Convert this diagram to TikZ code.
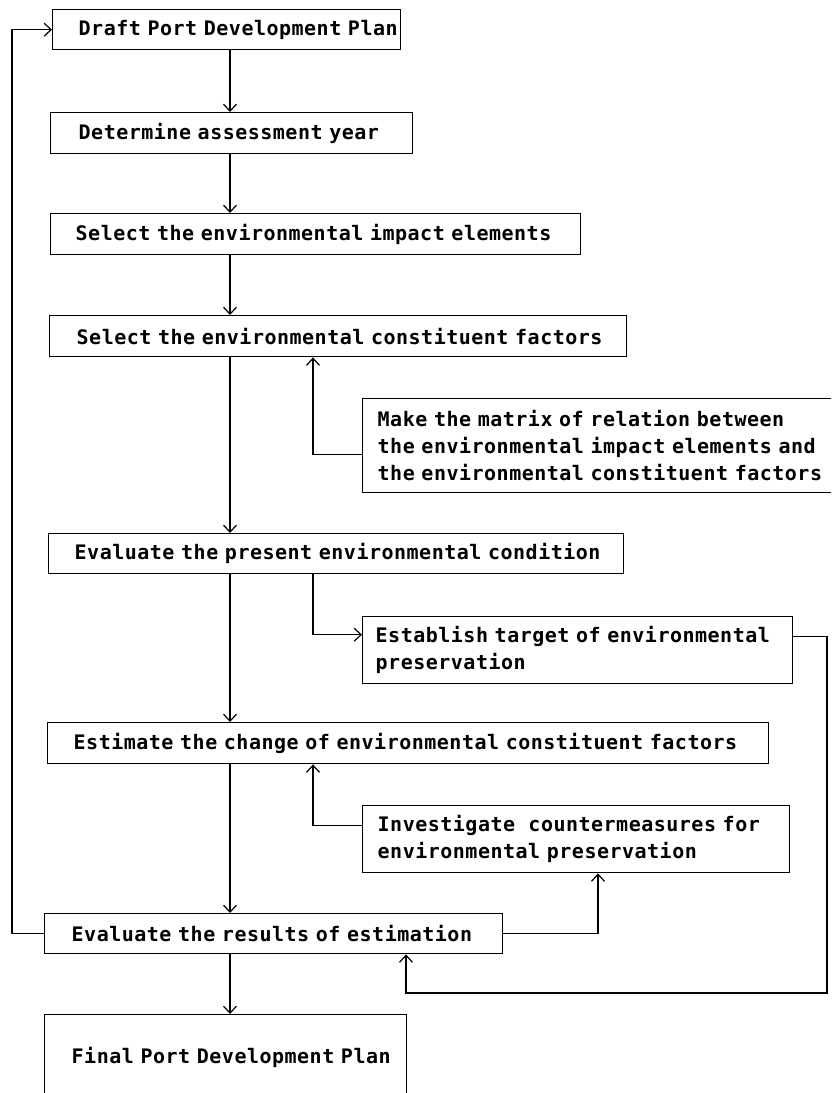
\documentclass[tikz,border=0pt]{standalone}
\usepackage{fontspec}
\newfontfamily\dmfont[LetterSpace=2.5]{DejaVu Sans Mono}
\usetikzlibrary{arrows.meta}
\newcommand\bl[2]{\hspace*{#1pt}\mbox{#2}}
\begin{document}
\begin{tikzpicture}[x=1pt,y=-1pt,
  box/.style={draw, line width=1.4pt, inner xsep=0pt, inner ysep=0pt, anchor=north west, align=left,
    font=\dmfont\bfseries\fontsize{20}{27}\selectfont},
  arr/.style={line width=1.4pt, -{Straight Barb[length=7pt,width=13pt,line width=1.2pt]}}]
\clip (0,0) rectangle (831,1093);
\fill[white] (0,0) rectangle (831,1093);
\node[box, text width=348pt, minimum height=40pt] (draft) at (52,9) {\bl{26}{Draft Port Development Plan}};
\node[box, text width=362pt, minimum height=41pt] (determine) at (50,112) {\bl{28}{Determine assessment year}};
\node[box, text width=530pt, minimum height=41pt] (impact) at (50,213) {\bl{25}{Select the environmental impact elements}};
\node[box, text width=577pt, minimum height=41pt] (factors) at (49,315) {\bl{27}{Select the environmental constituent factors}};
\node[box, text width=480pt, minimum height=94pt] (matrix) at (362,398) {\bl{15}{Make the matrix of relation between}\\\bl{15}{the environmental impact elements and}\\\bl{15}{the environmental constituent factors}};
\node[box, text width=575pt, minimum height=40pt] (evalpres) at (48,533) {\bl{26}{Evaluate the present environmental condition}};
\node[box, text width=430pt, minimum height=67pt] (establish) at (362,616) {\bl{13}{Establish target of environmental}\\\bl{13}{preservation}};
\node[box, text width=721pt, minimum height=41pt] (estimate) at (47,722) {\bl{26}{Estimate the change of environmental constituent factors}};
\node[box, text width=427pt, minimum height=67pt] (investigate) at (362,805) {\bl{15}{Investigate~ countermeasures for}\\\bl{15}{environmental preservation}};
\node[box, text width=458pt, minimum height=40pt] (evalres) at (44,913) {\bl{27}{Evaluate the results of estimation}};
\node[box, text width=362pt, minimum height=86pt] (final) at (44,1014) {\bl{27}{Final Port Development Plan}};
\coordinate (ax) at (230,0);
\coordinate (bx) at (313,0);
\coordinate (lx) at (12,0);
\coordinate (ix) at (598,0);
\coordinate (rx) at (406,0);
\coordinate (rc) at (827,993);
\draw[arr] (draft.south -| ax) -- (determine.north -| ax);
\draw[arr] (determine.south -| ax) -- (impact.north -| ax);
\draw[arr] (impact.south -| ax) -- (factors.north -| ax);
\draw[arr] (factors.south -| ax) -- (evalpres.north -| ax);
\draw[arr] ([yshift=-9pt]matrix.west) -| (factors.south -| bx);
\draw[arr] (evalpres.south -| bx) |- ([yshift=15.5pt]establish.west);
\draw[arr] (evalpres.south -| ax) -- (estimate.north -| ax);
\draw[arr] ([yshift=13.5pt]establish.east) -| (rc) -| (evalres.south -| rx);
\draw[arr] ([yshift=13.5pt]investigate.west) -| (estimate.south -| bx);
\draw[arr] (estimate.south -| ax) -- (evalres.north -| ax);
\draw[arr] (evalres.east) -| (investigate.south -| ix);
\draw[arr] (evalres.west) -- (evalres.west -| lx) |- (draft.west);
\draw[arr] (evalres.south -| ax) -- (final.north -| ax);
\end{tikzpicture}
\end{document}
